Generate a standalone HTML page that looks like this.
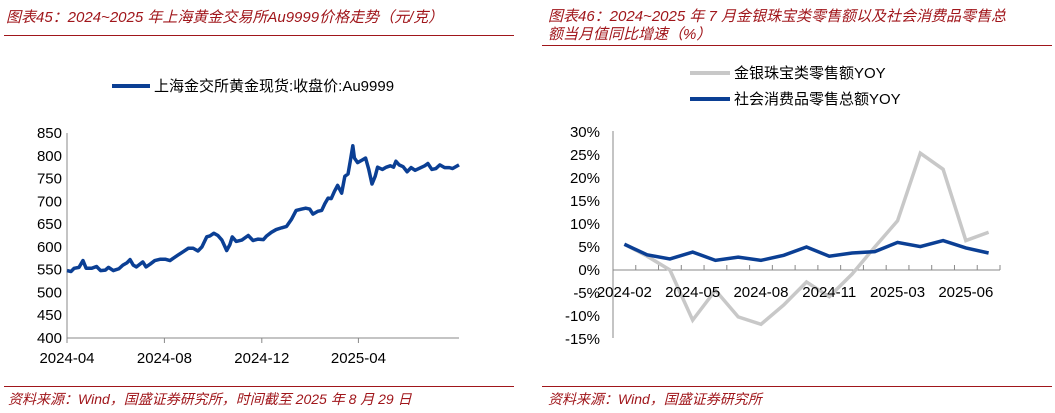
<!DOCTYPE html>
<html><head><meta charset="utf-8"><style>
body{margin:0;width:1055px;height:413px;background:#fff;overflow:hidden;font-family:"Liberation Sans","Noto Sans CJK SC",sans-serif}
.t{position:absolute;color:#a0161b;font-style:italic;font-size:15px;line-height:18px}
.f{position:absolute;color:#a0161b;font-style:italic;font-size:14px}
.ln{position:absolute;height:1px;background:#a0161b}
svg{position:absolute;left:0;top:0}
svg text{font-family:"Liberation Sans","Noto Sans CJK SC",sans-serif;font-size:15px;fill:#000}
</style></head><body>
<div class="t" style="left:6px;top:9px">图表45：2024~2025 年上海黄金交易所Au9999价格走势（元/克）</div>
<div class="ln" style="left:4px;top:35px;width:510px"></div>
<div class="t" style="left:548px;top:8px;width:472px">图表46：2024~2025 年 7 月金银珠宝类零售额以及社会消费品零售总额当月值同比增速（%）</div>
<div class="ln" style="left:542px;top:45px;width:510px"></div>
<div class="ln" style="left:4px;top:386px;width:510px"></div>
<div class="ln" style="left:542px;top:386px;width:510px"></div>
<div class="f" style="left:8px;top:389px">资料来源：Wind，国盛证券研究所，时间截至 2025 年 8 月 29 日</div>
<div class="f" style="left:548px;top:389px">资料来源：Wind，国盛证券研究所</div>
<svg id="s" width="1055" height="413"></svg>
<script>
const goldDays=[0,5,9,15,20,24,31,37,42,48,52,58,65,70,75,79,83,87,95,99,104,110,117,123,129,133,139,146,152,158,164,169,175,179,184,189,194,200,204,207,212,219,227,233,239,246,250,256,262,269,275,281,287,294,299,304,308,314,319,323,327,331,335,339,344,348,352,355,358,360,364,369,374,378,382,386,389,395,400,405,409,412,416,421,426,431,436,442,448,452,457,462,467,473,479,483,491];
const goldPrice=[548,546,553,555,570,553,553,557,548,549,555,548,552,560,565,572,560,556,567,556,562,570,573,573,570,575,582,590,597,597,591,600,622,624,630,625,615,592,605,622,612,615,625,614,617,616,624,632,638,642,645,660,680,683,685,683,672,678,680,695,707,706,722,735,718,755,760,790,822,795,785,790,795,770,738,755,775,770,775,778,775,788,780,776,765,774,768,773,778,783,770,772,780,774,774,772,780];
const goldYTicks=[400,450,500,550,600,650,700,750,800,850];
const goldXLabels=["2024-04","2024-08","2024-12","2025-04"];
const goldXLabelDays=[0,122,244,365];
const months=["2024-02","2024-03","2024-04","2024-05","2024-06","2024-07","2024-08","2024-09","2024-10","2024-11","2024-12","2025-02","2025-03","2025-04","2025-05","2025-06","2025-07"];
const jewelryYoY=[5.6,3.0,0,-10.9,-4.4,-10.2,-11.8,-7.6,-2.6,-5.8,-0.9,5.0,10.7,25.4,21.9,6.4,8.2];
const retailYoY=[5.6,3.3,2.4,3.9,2.1,2.8,2.1,3.2,5.0,3.0,3.7,4.0,6.0,5.1,6.4,4.8,3.7];
const pctTicks=[-15,-10,-5,0,5,10,15,20,25,30];
const s=document.getElementById('s');const NS='http://www.w3.org/2000/svg';
function el(t,a,txt){const e=document.createElementNS(NS,t);for(const k in a)e.setAttribute(k,a[k]);if(txt!==undefined)e.textContent=txt;s.appendChild(e);return e;}
const lx=d=>67+d*(392/491), ly=v=>338-(v-400)*(205/450);
let e=el('line',{x1:67,y1:133,x2:67,y2:338,stroke:'#888'});
e=el('line',{x1:67,y1:338,x2:459,y2:338,stroke:'#888'});
goldYTicks.forEach(v=>{const t=el('text',{x:62,y:ly(v)+5,'text-anchor':'end'},v);});
goldXLabels.forEach((l,i)=>{const x=lx(goldXLabelDays[i]);el('line',{x1:x,y1:338,x2:x,y2:343,stroke:'#888'});const t=el('text',{x:x,y:363,'text-anchor':'middle'},l);});
e=el('polyline',{points:goldDays.map((d,i)=>lx(d)+','+ly(goldPrice[i])).join(' '),fill:'none',stroke:'#0b3f94','stroke-width':3.5,'stroke-linejoin':'round'});

e=el('line',{x1:112,y1:86,x2:150,y2:86,stroke:'#0b3f94','stroke-width':4});
e=el('text',{x:154,y:91,'font-size':'14'},'上海金交所黄金现货:收盘价:Au9999');
const rx=i=>613+387/17*(i+0.5), ry=v=>270-v*(207/45);
e=el('line',{x1:613,y1:131,x2:613,y2:338,stroke:'#888'});
e=el('line',{x1:613,y1:270,x2:1000,y2:270,stroke:'#888'});
pctTicks.forEach(v=>{const t=el('text',{x:600,y:ry(v)+5,'text-anchor':'end'},v+'%');});
for(let i=0;i<=17;i++){const x=613+387/17*i;el('line',{x1:x,y1:265,x2:x,y2:270,stroke:'#888'});}
e=el('polyline',{points:jewelryYoY.map((v,i)=>rx(i)+','+ry(v)).join(' '),fill:'none',stroke:'#c8c8c8','stroke-width':3.5});

months.forEach((m,i)=>{if(i%3===0){const t=el('text',{x:rx(i),y:297,'text-anchor':'middle'},m);}});
e=el('polyline',{points:retailYoY.map((v,i)=>rx(i)+','+ry(v)).join(' '),fill:'none',stroke:'#0b3f94','stroke-width':3.5});

e=el('line',{x1:690,y1:73,x2:730,y2:73,stroke:'#c8c8c8','stroke-width':4});
e=el('text',{x:734,y:78,'font-size':'14'},'金银珠宝类零售额YOY');
e=el('line',{x1:690,y1:99,x2:730,y2:99,stroke:'#0b3f94','stroke-width':4});
e=el('text',{x:734,y:104,'font-size':'14'},'社会消费品零售总额YOY');
</script>
</body></html>
